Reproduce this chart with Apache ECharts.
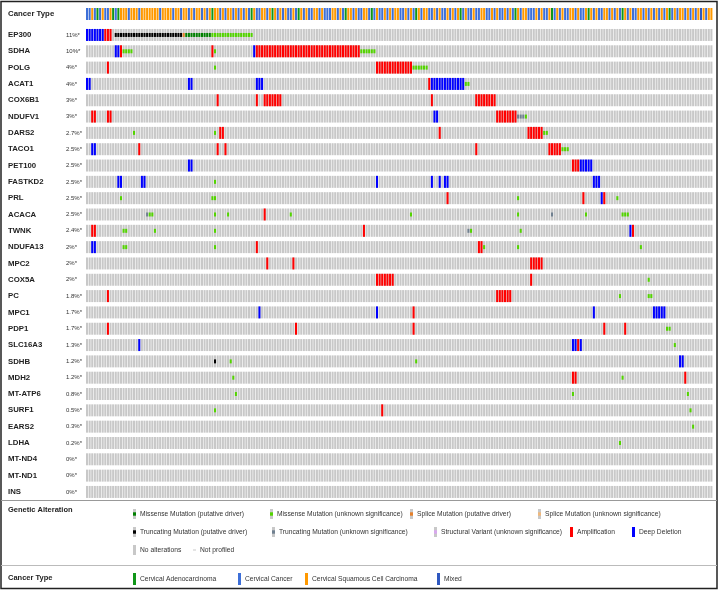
<!DOCTYPE html>
<html>
<head>
<meta charset="utf-8">
<script src="https://cdn.jsdelivr.net/npm/echarts@6/dist/echarts.min.js"></script>
<style>
  html, body { margin: 0; padding: 0; background: #fff; }
  #chart { width: 719px; height: 590px; }
</style>
</head>
<body>
<div id="chart"></div>
<script>
// number of sample columns in the oncoprint
const NCOL = 240;

const genes = ['EP300', 'SDHA', 'POLG', 'ACAT1', 'COX6B1', 'NDUFV1', 'DARS2', 'TACO1', 'PET100', 'FASTKD2',
  'PRL', 'ACACA', 'TWNK', 'NDUFA13', 'MPC2', 'COX5A', 'PC', 'MPC1', 'PDP1', 'SLC16A3',
  'SDHB', 'MDH2', 'MT-ATP6', 'SURF1', 'EARS2', 'LDHA', 'MT-ND4', 'MT-ND1', 'INS'];

const pctLabels = ['11%*', '10%*', '4%*', '4%*', '3%*', '3%*', '2.7%*', '2.5%*', '2.5%*', '2.5%*',
  '2.5%*', '2.5%*', '2.4%*', '2%*', '2%*', '2%*', '1.8%*', '1.7%*', '1.7%*', '1.3%*',
  '1.2%*', '1.2%*', '0.8%*', '0.5%*', '0.3%*', '0.2%*', '0%*', '0%*', '0%*'];

// cancer type per column: G adeno, B cervical cancer, O squamous, M mixed
const cancerTypeCodes =
  'BBOBGBOBBO' + 'GBGOOOBOOO' + 'BOOOOOOOBO' + 'OOOBOOBOOB' + 'OBOOBOBOGO' + 'OBOBOOBOBO' +
  'BOBGOBBOOB' + 'OGOBOBOBBO' + 'BGOBOBBOOB' + 'OBBBOOBOBG' + 'OOBOBBOOBG' + 'BOBBOBOBOO' +
  'BBOBOBGOBO' + 'OBBOBOBBOB' + 'OBOGBOBBOB' + 'BOOBBOBOBB' + 'OBOBGOBOOB' + 'BBOBOBBOGB' +
  'OBOBBOOBOB' + 'BOGOBOBBOO' + 'BOBOBGOBOB' + 'BOOBOBOBOB' + 'OBOGBOBOOB' + 'OBOBOMOBOO';

// alteration runs per gene: [firstCol, lastCol, type]
const altEP300 = [[0, 6, 'del'], [7, 9, 'amp'], [11, 36, 'trunc'], [37, 37, 'splice'], [38, 47, 'mis'], [48, 63, 'misu']];
const altSDHA = [[11, 12, 'del'], [13, 13, 'amp'], [14, 17, 'misu'], [48, 48, 'amp'], [49, 49, 'misu'], [64, 64, 'del'], [65, 104, 'amp'], [105, 110, 'misu']];
const altPOLG = [[8, 8, 'amp'], [49, 49, 'misu'], [111, 124, 'amp'], [125, 130, 'misu']];
const altACAT1 = [[0, 1, 'del'], [39, 40, 'del'], [65, 67, 'del'], [131, 131, 'amp'], [132, 144, 'del'], [145, 146, 'misu']];
const altCOX6B1 = [[50, 50, 'amp'], [65, 65, 'amp'], [68, 74, 'amp'], [132, 132, 'amp'], [149, 156, 'amp']];
const altNDUFV1 = [[2, 3, 'amp'], [8, 9, 'amp'], [133, 134, 'del'], [157, 164, 'amp'], [165, 167, 'truncu'], [168, 168, 'misu']];
const altDARS2 = [[18, 18, 'misu'], [49, 49, 'misu'], [51, 52, 'amp'], [135, 135, 'amp'], [169, 174, 'amp'], [175, 176, 'misu']];
const altTACO1 = [[2, 3, 'del'], [20, 20, 'amp'], [50, 50, 'amp'], [53, 53, 'amp'], [149, 149, 'amp'], [177, 181, 'amp'], [182, 184, 'misu']];
const altPET100 = [[39, 40, 'del'], [186, 188, 'amp'], [189, 193, 'del']];
const altFASTKD2 = [[12, 13, 'del'], [21, 22, 'del'], [49, 49, 'misu'], [111, 111, 'del'], [132, 132, 'del'], [135, 135, 'del'], [137, 138, 'del'], [194, 196, 'del']];
const altPRL = [[13, 13, 'misu'], [48, 49, 'misu'], [138, 138, 'amp'], [165, 165, 'misu'], [190, 190, 'amp'], [197, 197, 'del'], [198, 198, 'amp'], [203, 203, 'misu']];
const altACACA = [[23, 23, 'truncu'], [24, 25, 'misu'], [49, 49, 'misu'], [54, 54, 'misu'], [68, 68, 'amp'], [78, 78, 'misu'], [124, 124, 'misu'], [165, 165, 'misu'], [178, 178, 'truncu'], [191, 191, 'misu'], [205, 207, 'misu']];
const altTWNK = [[2, 3, 'amp'], [14, 15, 'misu'], [26, 26, 'misu'], [49, 49, 'misu'], [106, 106, 'amp'], [146, 146, 'truncu'], [147, 147, 'misu'], [166, 166, 'misu'], [208, 208, 'del'], [209, 209, 'amp']];
const altNDUFA13 = [[2, 3, 'del'], [14, 15, 'misu'], [49, 49, 'misu'], [65, 65, 'amp'], [150, 151, 'amp'], [152, 152, 'misu'], [165, 165, 'misu'], [212, 212, 'misu']];
const altMPC2 = [[69, 69, 'amp'], [79, 79, 'amp'], [170, 174, 'amp']];
const altCOX5A = [[111, 117, 'amp'], [170, 170, 'amp'], [215, 215, 'misu']];
const altPC = [[8, 8, 'amp'], [157, 162, 'amp'], [204, 204, 'misu'], [215, 216, 'misu']];
const altMPC1 = [[66, 66, 'del'], [111, 111, 'del'], [125, 125, 'amp'], [194, 194, 'del'], [217, 221, 'del']];
const altPDP1 = [[8, 8, 'amp'], [80, 80, 'amp'], [125, 125, 'amp'], [198, 198, 'amp'], [206, 206, 'amp'], [222, 223, 'misu']];
const altSLC16A3 = [[20, 20, 'del'], [186, 187, 'del'], [188, 188, 'amp'], [189, 189, 'del'], [225, 225, 'misu']];
const altSDHB = [[49, 49, 'trunc'], [55, 55, 'misu'], [126, 126, 'misu'], [227, 228, 'del']];
const altMDH2 = [[56, 56, 'misu'], [186, 187, 'amp'], [205, 205, 'misu'], [229, 229, 'amp']];
const altMTATP6 = [[57, 57, 'misu'], [186, 186, 'misu'], [230, 230, 'misu']];
const altSURF1 = [[49, 49, 'misu'], [113, 113, 'amp'], [231, 231, 'misu']];
const altEARS2 = [[232, 232, 'misu']];
const altLDHA = [[204, 204, 'misu']];

const geneAlts = [altEP300, altSDHA, altPOLG, altACAT1, altCOX6B1, altNDUFV1, altDARS2, altTACO1, altPET100, altFASTKD2,
  altPRL, altACACA, altTWNK, altNDUFA13, altMPC2, altCOX5A, altPC, altMPC1, altPDP1, altSLC16A3,
  altSDHB, altMDH2, altMTATP6, altSURF1, altEARS2, altLDHA, [], [], []];

const altColors = {
  amp: '#ff0000', del: '#0000ff', mis: '#008000', misu: '#53d400', trunc: '#000000',
  truncu: '#708090', splice: '#e5802b', spliceu: '#f0b87b', sv: '#d8a8ee'
};
const fullHeight = { amp: true, del: true };
const typeColors = { G: '#109618', B: '#3d6fd8', O: '#ff9900', M: '#2f58c0' };
const FONT = 'Liberation Sans, Arial, sans-serif';

// build cell lists
const bgCells = [];
genes.forEach((g, r) => { for (let c = 0; c < NCOL; c++) bgCells.push([c, r]); });

const altCells = [];
const altKinds = Object.keys(altColors);
geneAlts.forEach((runs, r) => {
  runs.forEach(([a, b, t]) => {
    for (let c = a; c <= b; c++) altCells.push([c, r, altKinds.indexOf(t)]);
  });
});

const trackCells = cancerTypeCodes.split('').map((code, c) => [c, 0, code]);

function cellRect(api, fill, frac) {
  const p = api.coord([api.value(0), api.value(1)]);
  const w = api.size([1, 0])[0];
  const bandH = api.size([0, 1])[1];
  const h = bandH * frac;
  return { type: 'rect', shape: { x: p[0], y: p[1] - h / 2, width: w * 0.78, height: h }, style: { fill: fill } };
}

const CELL_FRAC = 0.735;

const series = [
  {
    type: 'custom', xAxisIndex: 0, yAxisIndex: 0, silent: true, animation: false,
    data: trackCells,
    renderItem: (params, api) => {
      const code = trackCells[params.dataIndex][2];
      return cellRect(api, typeColors[code], 1);
    }
  },
  {
    type: 'custom', xAxisIndex: 1, yAxisIndex: 1, silent: true, animation: false,
    data: bgCells,
    renderItem: (params, api) => cellRect(api, '#c8c8c8', CELL_FRAC)
  },
  {
    type: 'custom', xAxisIndex: 1, yAxisIndex: 1, silent: true, animation: false,
    data: altCells,
    renderItem: (params, api) => {
      const kind = altKinds[api.value(2)];
      return cellRect(api, altColors[kind], fullHeight[kind] ? CELL_FRAC : CELL_FRAC / 3);
    }
  }
];

// legend graphics
const graphics = [];
function legendIcon(x, y, kind) {
  if (kind === 'none') {
    graphics.push({ type: 'rect', shape: { x: x, y: y - 5, width: 3, height: 10 }, style: { fill: '#c8c8c8' } });
  } else if (kind === 'np') {
    graphics.push({ type: 'rect', shape: { x: x, y: y - 0.5, width: 3, height: 1 }, style: { fill: '#c8c8c8' } });
  } else if (fullHeight[kind]) {
    graphics.push({ type: 'rect', shape: { x: x, y: y - 5, width: 3, height: 10 }, style: { fill: altColors[kind] } });
  } else {
    graphics.push({ type: 'rect', shape: { x: x, y: y - 5, width: 3, height: 10 }, style: { fill: '#c8c8c8' } });
    graphics.push({ type: 'rect', shape: { x: x, y: y - 1.7, width: 3, height: 3.4 }, style: { fill: altColors[kind] } });
  }
}
function legendText(x, y, text) {
  graphics.push({ type: 'text', x: x, y: y, style: { text: text, fill: '#333', font: '6.7px ' + FONT, verticalAlign: 'middle' } });
}
const legendRows = [
  [[133, 'mis', 'Missense Mutation (putative driver)'], [270, 'misu', 'Missense Mutation (unknown significance)'],
   [410, 'splice', 'Splice Mutation (putative driver)'], [538, 'spliceu', 'Splice Mutation (unknown significance)']],
  [[133, 'trunc', 'Truncating Mutation (putative driver)'], [272, 'truncu', 'Truncating Mutation (unknown significance)'],
   [434, 'sv', 'Structural Variant (unknown significance)'], [570, 'amp', 'Amplification'], [632, 'del', 'Deep Deletion']],
  [[133, 'none', 'No alterations'], [193, 'np', 'Not profiled']]
];
const legendRowY = [514, 532, 550];
legendRows.forEach((row, i) => {
  row.forEach(([x, kind, label]) => {
    legendIcon(x, legendRowY[i], kind);
    legendText(x + 7, legendRowY[i], label);
  });
});
const typeLegend = [[133, 'G', 'Cervical Adenocarcinoma'], [238, 'B', 'Cervical Cancer'],
  [305, 'O', 'Cervical Squamous Cell Carcinoma'], [437, 'M', 'Mixed']];
typeLegend.forEach(([x, code, label]) => {
  graphics.push({ type: 'rect', shape: { x: x, y: 573, width: 3, height: 12 }, style: { fill: typeColors[code] } });
  legendText(x + 7, 579, label);
});
graphics.push({ type: 'text', x: 8, y: 510, style: { text: 'Genetic Alteration', fill: '#222', font: 'bold 7.5px ' + FONT, verticalAlign: 'middle' } });
graphics.push({ type: 'text', x: 8, y: 578, style: { text: 'Cancer Type', fill: '#222', font: 'bold 7.5px ' + FONT, verticalAlign: 'middle' } });
// frame and separators
graphics.push({ type: 'rect', shape: { x: 1, y: 1.5, width: 716, height: 587 }, style: { fill: 'none', stroke: '#222', lineWidth: 1.5 } });
graphics.push({ type: 'line', shape: { x1: 1, y1: 500.5, x2: 717, y2: 500.5 }, style: { stroke: '#999', lineWidth: 1 } });
graphics.push({ type: 'line', shape: { x1: 1, y1: 565.5, x2: 717, y2: 565.5 }, style: { stroke: '#bbb', lineWidth: 1 } });

const labelRich = {
  g: { width: 58, fontWeight: 'bold', fontSize: 7.8, color: '#222', fontFamily: FONT },
  p: { fontSize: 6, color: '#333', fontFamily: FONT }
};

const option = {
  animation: false,
  grid: [
    { left: 86, right: 6, top: 8, height: 12 },
    { left: 86, right: 6, top: 26.8, height: 473.3 }
  ],
  xAxis: [
    { type: 'value', gridIndex: 0, min: 0, max: NCOL, show: false },
    { type: 'value', gridIndex: 1, min: 0, max: NCOL, show: false }
  ],
  yAxis: [
    {
      type: 'category', gridIndex: 0, data: ['Cancer Type'],
      axisLine: { show: false }, axisTick: { show: false }, splitLine: { show: false },
      axisLabel: { align: 'left', margin: 78, formatter: (v) => '{g|' + v + '}', rich: labelRich }
    },
    {
      type: 'category', gridIndex: 1, data: genes, inverse: true,
      axisLine: { show: false }, axisTick: { show: false }, splitLine: { show: false },
      axisLabel: {
        align: 'left', margin: 78, interval: 0,
        formatter: (v, i) => '{g|' + v + '}{p|' + pctLabels[i] + '}', rich: labelRich
      }
    }
  ],
  series: series,
  graphic: graphics
};

const chart = echarts.init(document.getElementById('chart'));
chart.setOption(option);
</script>
</body>
</html>
